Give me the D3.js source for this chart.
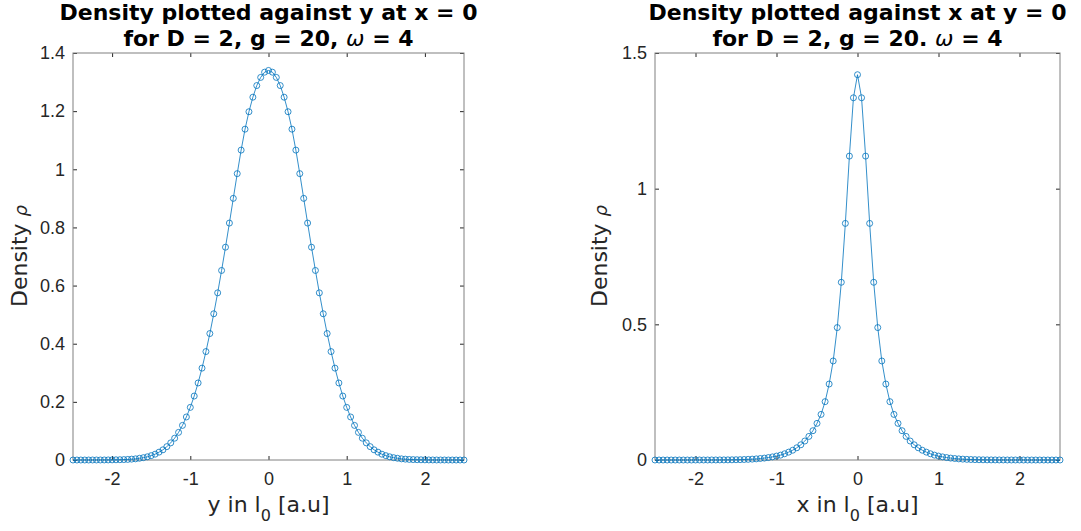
<!DOCTYPE html>
<html>
<head>
<meta charset="utf-8">
<script src="https://cdn.jsdelivr.net/npm/d3@7"></script>
<style>
  body { margin: 0; background: #fff; }
  svg { font-family: "DejaVu Sans", sans-serif; }
  .tick text { fill: #262626; font-size: 18px; }
  .tick line { stroke: #262626; }
</style>
</head>
<body>
<svg id="chart" width="1081" height="531"></svg>
<script>
// grid positions (same for both panels)
const xGrid = [-2.5,-2.45,-2.4,-2.35,-2.3,-2.25,-2.2,-2.15,-2.1,-2.05,-2,-1.95,-1.9,-1.85,-1.8,-1.75,-1.7,-1.65,-1.6,-1.55,
  -1.5,-1.45,-1.4,-1.35,-1.3,-1.25,-1.2,-1.15,-1.1,-1.05,-1,-0.95,-0.9,-0.85,-0.8,-0.75,-0.7,-0.65,-0.6,-0.55,
  -0.5,-0.45,-0.4,-0.35,-0.3,-0.25,-0.2,-0.15,-0.1,-0.05,0,0.05,0.1,0.15,0.2,0.25,0.3,0.35,0.4,0.45,
  0.5,0.55,0.6,0.65,0.7,0.75,0.8,0.85,0.9,0.95,1,1.05,1.1,1.15,1.2,1.25,1.3,1.35,1.4,1.45,
  1.5,1.55,1.6,1.65,1.7,1.75,1.8,1.85,1.9,1.95,2,2.05,2.1,2.15,2.2,2.25,2.3,2.35,2.4,2.45,2.5];

// density along y at x = 0
const densityY = [0,0,0,0,0,0.0001,0.0001,0.0001,0.0002,0.0003,0.0005,0.0007,0.001,0.0014,0.002,0.003,0.004,0.006,0.008,0.011,
  0.015,0.020,0.027,0.035,0.046,0.059,0.075,0.095,0.119,0.148,0.181,0.220,0.265,0.316,0.373,0.435,0.503,0.575,0.652,0.732,
  0.815,0.900,0.985,1.066,1.138,1.198,1.248,1.288,1.316,1.334,1.340,1.334,1.316,1.288,1.248,1.198,1.138,1.066,0.985,0.900,
  0.815,0.732,0.652,0.575,0.503,0.435,0.373,0.316,0.265,0.220,0.181,0.148,0.119,0.095,0.075,0.059,0.046,0.035,0.027,0.020,
  0.015,0.011,0.008,0.006,0.004,0.003,0.002,0.0014,0.001,0.0007,0.0005,0.0003,0.0002,0.0001,0.0001,0.0001,0,0,0,0,0];

// density along x at y = 0
const densityX = [0,0,0,0,0,0,0,0,0,0,0.0001,0.0001,0.0001,0.0001,0.0002,0.0002,0.0003,0.0004,0.0005,0.0007,
  0.001,0.0013,0.0018,0.0024,0.0032,0.0042,0.0055,0.007,0.009,0.0115,0.0145,0.018,0.023,0.029,0.036,0.045,0.056,0.070,0.087,0.108,
  0.135,0.168,0.215,0.28,0.365,0.488,0.655,0.872,1.12,1.335,1.42,1.335,1.12,0.872,0.655,0.488,0.365,0.28,0.215,0.168,
  0.135,0.108,0.087,0.070,0.056,0.045,0.036,0.029,0.023,0.018,0.0145,0.0115,0.009,0.007,0.0055,0.0042,0.0032,0.0024,0.0018,0.0013,
  0.001,0.0007,0.0005,0.0004,0.0003,0.0002,0.0002,0.0001,0.0001,0.0001,0.0001,0,0,0,0,0,0,0,0,0,0];

const xTicks = [-2, -1, 0, 1, 2];
const yTicksLeft = [0, 0.2, 0.4, 0.6, 0.8, 1, 1.2, 1.4];
const yTicksRight = [0, 0.5, 1, 1.5];

const svg = d3.select('#chart');
const lineColor = '#0072BD';
const plain = d => String(d);   // matlab style: "-2", "0.5", "1"

function drawPanel(cfg) {
  const g = svg.append('g');
  const x = d3.scaleLinear().domain([-2.5, 2.5]).range([cfg.left, cfg.right]);
  const y = d3.scaleLinear().domain([0, cfg.yMax]).range([460, 53]);
  const cx = (cfg.left + cfg.right) / 2;

  // axes with inward ticks on all four sides
  g.append('g').attr('transform', 'translate(0,460)')
    .call(d3.axisBottom(x).tickValues(xTicks).tickSizeInner(-4).tickSizeOuter(0).tickPadding(12).tickFormat(plain))
    .call(a => a.select('.domain').remove());
  g.append('g').attr('transform', 'translate(0,53)')
    .call(d3.axisTop(x).tickValues(xTicks).tickSizeInner(-4).tickSizeOuter(0).tickFormat(''))
    .call(a => a.select('.domain').remove());
  g.append('g').attr('transform', `translate(${cfg.left},0)`)
    .call(d3.axisLeft(y).tickValues(cfg.yTicks).tickSizeInner(-4).tickSizeOuter(0).tickPadding(8).tickFormat(plain))
    .call(a => a.select('.domain').remove());
  g.append('g').attr('transform', `translate(${cfg.right},0)`)
    .call(d3.axisRight(y).tickValues(cfg.yTicks).tickSizeInner(-4).tickSizeOuter(0).tickFormat(''))
    .call(a => a.select('.domain').remove());

  g.append('rect')
    .attr('x', cfg.left).attr('y', 53)
    .attr('width', cfg.right - cfg.left).attr('height', 407)
    .attr('fill', 'none').attr('stroke', '#808080').attr('stroke-width', 1);

  const pts = xGrid.map((d, i) => [d, cfg.values[i]]);

  g.append('path')
    .datum(pts)
    .attr('fill', 'none')
    .attr('stroke', lineColor)
    .attr('stroke-width', 0.8)
    .attr('d', d3.line().x(d => x(d[0])).y(d => y(d[1])));

  g.selectAll('.pt')
    .data(pts)
    .enter().append('circle')
    .attr('class', 'pt')
    .attr('cx', d => x(d[0]))
    .attr('cy', d => y(d[1]))
    .attr('r', 3)
    .attr('fill', 'none')
    .attr('stroke', lineColor)
    .attr('stroke-width', 0.8);

  // title, two lines
  g.append('text')
    .attr('x', cx).attr('y', 20)
    .attr('text-anchor', 'middle')
    .style('font-size', '22px').style('font-weight', 'bold')
    .text(cfg.title1);
  const t2 = g.append('text')
    .attr('x', cx).attr('y', 46)
    .attr('text-anchor', 'middle')
    .style('font-size', '22px').style('font-weight', 'bold');
  t2.append('tspan').text(cfg.title2);
  t2.append('tspan').style('font-style', 'italic').style('font-weight', 'normal').text('ω');
  t2.append('tspan').text(' = 4');

  // x label with subscript
  const xl = g.append('text')
    .attr('x', cx).attr('y', 512)
    .attr('text-anchor', 'middle')
    .style('font-size', '22px').attr('fill', '#262626');
  xl.append('tspan').text(cfg.axisName + ' in l');
  xl.append('tspan').attr('dy', 9).style('font-size', '16px').text('0');
  xl.append('tspan').attr('dy', -9).text(' [a.u]');

  // y label
  const yl = g.append('text')
    .attr('transform', `translate(${cfg.yLabelX},256) rotate(-90)`)
    .attr('text-anchor', 'middle')
    .style('font-size', '22px').attr('fill', '#262626');
  yl.append('tspan').text('Density ');
  yl.append('tspan').style('font-style', 'italic').style('font-size', '18px').text('ρ');
}

drawPanel({
  left: 73, right: 464, yMax: 1.4, yTicks: yTicksLeft, values: densityY,
  title1: 'Density plotted against y at x = 0', title2: 'for D = 2, g = 20, ',
  axisName: 'y', yLabelX: 27
});

drawPanel({
  left: 655, right: 1060, yMax: 1.5, yTicks: yTicksRight, values: densityX,
  title1: 'Density plotted against x at y = 0', title2: 'for D = 2, g = 20. ',
  axisName: 'x', yLabelX: 607
});
</script>
</body>
</html>
